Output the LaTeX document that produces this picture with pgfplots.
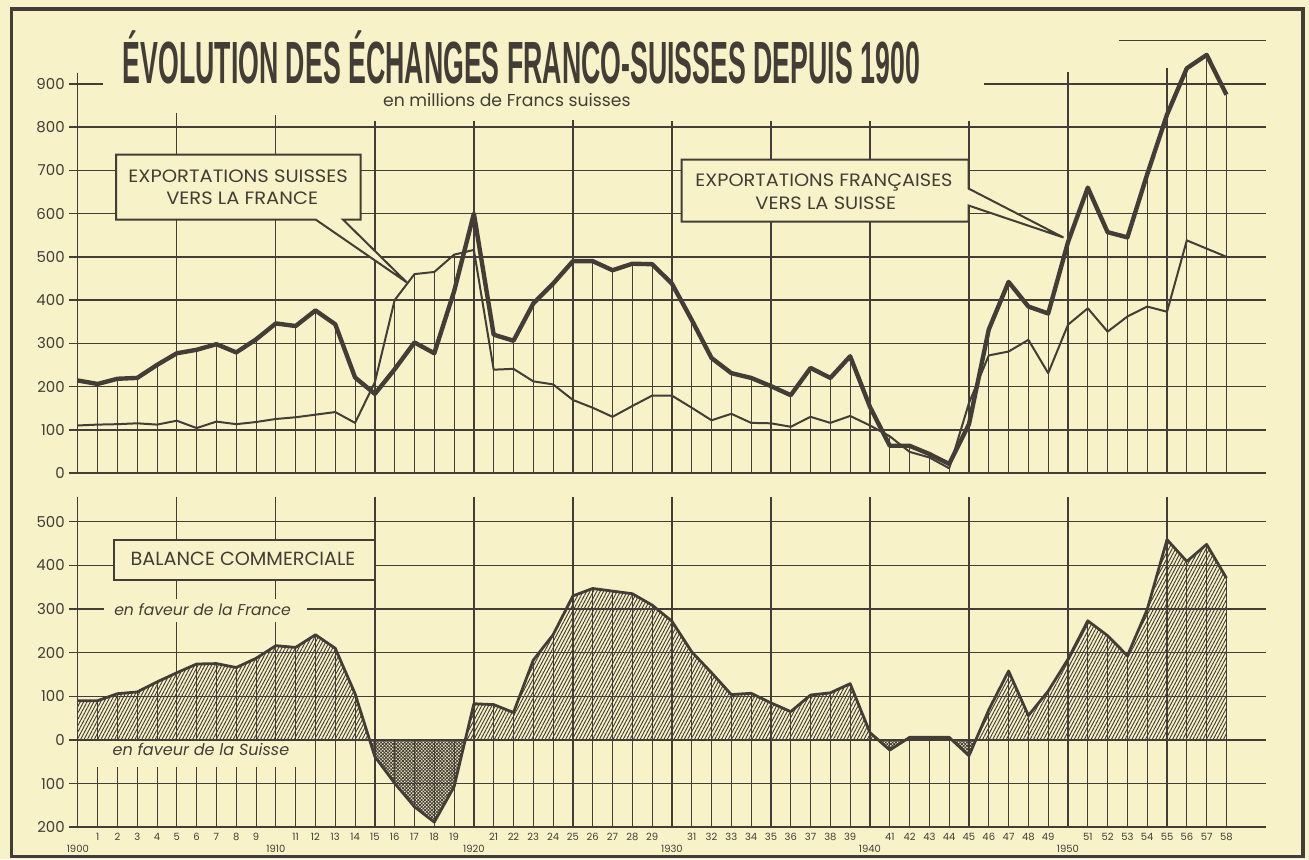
\documentclass[border=0pt]{standalone}
\usepackage{fontspec}
\setmainfont{Poppins}
\newfontfamily\titlefont{Liberation Sans}
\usepackage{graphicx}
\usepackage{xcolor}
\usepackage{pgfplots}
\usepackage{pgfplotstable}
\pgfplotsset{compat=1.18}
\usepgfplotslibrary{fillbetween}
\usetikzlibrary{patterns.meta}
\definecolor{paper}{RGB}{248,242,200}
\definecolor{ink}{RGB}{66,61,54}
\newcommand\capsfit[3]{\resizebox{#1}{#2}{\vphantom{X}\smash{#3}}}

\pgfplotstableread{
year fr ch top
1900 214 110 214
1901 206 112 206
1902 218 113 218
1903 220 115 220
1904 250 112 250
1905 277 121 277
1906 285 104 285
1907 298 119 298
1908 279 113 279
1909 309 118 309
1910 346 125 346
1911 340 129 340
1912 376 135 376
1913 344 141 344
1914 221 116 221
1915 183 210 210
1916 240 400 400
1917 302 460 460
1918 277 465 465
1919 420 505 505
1920 600 516 600
1921 320 239 320
1922 306 241 306
1923 392 212 392
1924 438 205 438
1925 490 169 490
1926 490 151 490
1927 469 130 469
1928 484 155 484
1929 483 179 483
1930 438 179 438
1931 354 151 354
1932 266 122 266
1933 231 137 231
1934 220 116 220
1935 201 115 201
1936 180 107 180
1937 243 130 243
1938 220 116 220
1939 270 132 270
1940 153 110 153
1941 63 85 85
1942 63 49 63
1943 44 36 44
1944 21 11 21
1945 113 162 162
1946 332 272 332
1947 442 281 442
1948 385 308 385
1949 369 231 369
1950 534 343 534
1951 660 381 660
1952 557 327 557
1953 545 362 545
1954 691 385 691
1955 829 373 829
1956 936 538 936
1957 967 519 967
1958 875 500 875
}\exports

\pgfplotstableread{
year bal low
1900 90 -200
1901 90 -200
1902 106 -200
1903 110 -200
1904 133 -200
1905 154 -200
1906 174 -200
1907 175 -200
1908 166 -200
1909 187 -200
1910 216 -200
1911 212 -200
1912 241 -200
1913 210 -200
1914 106 -200
1915 -38 -200
1916 -99 -200
1917 -153 -200
1918 -188 -200
1919 -107 -200
1920 83 -200
1921 81 -200
1922 63 -200
1923 183 -200
1924 241 -200
1925 330 -200
1926 347 -200
1927 341 -200
1928 335 -200
1929 309 -200
1930 272 -200
1931 202 -200
1932 154 -200
1933 104 -200
1934 107 -200
1935 85 -200
1936 65 -200
1937 103 -200
1938 108 -200
1939 129 -200
1940 17 -200
1941 -23 -200
1942 6 -200
1943 6 -200
1944 6 -200
1945 -36 -200
1946 69 -200
1947 158 -200
1948 56 -200
1949 112 -200
1950 185 -200
1951 273 -200
1952 239 -200
1953 193 -200
1954 299 -200
1955 459 -200
1956 409 -200
1957 448 -200
1958 371 -200
}\balance

\tikzset{
  gridh/.style={draw=ink, line width=1.5pt},
  gridv/.style={draw=ink, line width=1.3pt},
  posfill/.style={pattern={Lines[angle=62,distance=3pt,line width=0.95pt]}, pattern color=ink},
  negfill/.style={pattern={Hatch[angle=45,distance=2.4pt,line width=0.85pt]}, pattern color=ink},
}
\pgfplotsset{
  common/.style={
    scale only axis, clip=false,
    axis line style={draw=none}, tick style={draw=none}, major tick length=0pt,
    xmin=1899.55, xmax=1960,
    tick label style={text=ink},
    yticklabel style={font=\fontsize{15}{15}\selectfont, inner sep=0pt, xshift=-4pt, anchor=east},
  },
  comb/.style={ycomb, draw=ink, line width=1pt, mark=none},
}

\begin{document}
\pagecolor{paper}
\begin{tikzpicture}

% ---------------- top chart ----------------
\begin{axis}[common,
  at={(66.37pt,-474pt)}, anchor=south west,
  width=1199.6pt, height=433.3pt,
  ymin=0, ymax=1000,
  xtick=\empty,
  ytick={0,100,...,900},
  yticklabels={0,100,200,300,400,500,600,700,800,900},
]
\pgfplotsinvokeforeach{100,200,...,800}{\draw[gridh] (1899.55,#1) -- (1960,#1);}
\draw[gridh] (1899.55,900) -- (1901.25,900);
\draw[gridh] (1945.75,900) -- (1960,900);
\draw[gridh] (1952.6,1000) -- (1960,1000);
\draw[gridv] (1900,0) -- (1900,925);
\draw[gridv] (1905,0) -- (1905,833);
\draw[gridv] (1910,0) -- (1910,828);
\draw[gridv] (1915,0) -- (1915,813);
\draw[gridv] (1920,0) -- (1920,813);
\draw[gridv] (1925,0) -- (1925,817);
\draw[gridv] (1930,0) -- (1930,813);
\draw[gridv] (1935,0) -- (1935,813);
\draw[gridv] (1940,0) -- (1940,813);
\draw[gridv] (1945,0) -- (1945,813);
\draw[gridv] (1950,0) -- (1950,928);
\draw[gridv] (1955,0) -- (1955,937);
\addplot[comb] table[x=year,y=top]{\exports};
\draw[draw=ink, line width=2.4pt] (1899.55,0) -- (1960,0);
\addplot[draw=ink, line width=2pt, line join=round, mark=none] table[x=year,y=ch]{\exports};
\addplot[draw=ink, line width=4.4pt, line join=round, mark=none] table[x=year,y=fr]{\exports};
\end{axis}

% ---------------- bottom chart ----------------
\begin{axis}[common, set layers,
  at={(66.37pt,-829pt)}, anchor=south west,
  width=1199.6pt, height=332.5pt,
  ymin=-200, ymax=560,
  ytick={-200,-100,0,100,200,300,400,500},
  yticklabels={200,100,0,100,200,300,400,500},
  xtick={1901,1902,1903,1904,1905,1906,1907,1908,1909,1911,1912,1913,1914,1915,1916,1917,1918,1919,1921,1922,1923,1924,1925,1926,1927,1928,1929,1931,1932,1933,1934,1935,1936,1937,1938,1939,1941,1942,1943,1944,1945,1946,1947,1948,1949,1951,1952,1953,1954,1955,1956,1957,1958},
  xticklabels={1,2,3,4,5,6,7,8,9,11,12,13,14,15,16,17,18,19,21,22,23,24,25,26,27,28,29,31,32,33,34,35,36,37,38,39,41,42,43,44,45,46,47,48,49,51,52,53,54,55,56,57,58},
  xticklabel style={font=\fontsize{10}{10}\selectfont, inner sep=0pt, yshift=-6pt, anchor=north},
  extra x ticks={1900,1910,1920,1930,1940,1950},
  extra x tick labels={1900,1910,1920,1930,1940,1950},
  extra x tick style={tick style={draw=none}, xticklabel style={yshift=-12pt}},
]
\pgfplotsinvokeforeach{-100,100,200,300,400,500}{\draw[gridh] (1899.55,#1) -- (1960,#1);}
\pgfplotsinvokeforeach{1900,1905,...,1955}{\draw[gridv] (#1,-200) -- (#1,556);}
\addplot[comb] table[x=year,y=low]{\balance};
\addplot[comb] table[x=year,y=bal]{\balance};
\addplot[name path=bal, draw=none, mark=none] table[x=year,y=bal]{\balance};
\path[name path=zero] (1900,0) -- (1958,0);
\addplot[draw=none] fill between[of=bal and zero, split,
  every segment no 0/.style={posfill},
  every segment no 1/.style={negfill},
  every segment no 2/.style={posfill},
  every segment no 3/.style={negfill},
  every segment no 4/.style={posfill},
  every segment no 5/.style={negfill},
  every segment no 6/.style={posfill}];
\fill[paper] (1901.3,323) rectangle (1911.57,271);
\fill[paper] (1900.64,-1.8) rectangle (1911.3,-61);
\node[anchor=base west, inner sep=0pt, text=ink] at (1901.83,285.3) {\resizebox{177pt}{!}{\itshape en faveur de la France}};
\node[anchor=base west, inner sep=0pt, text=ink] at (1901.75,-36.1) {\resizebox{177pt}{!}{\itshape en faveur de la Suisse}};
\draw[draw=ink, line width=2.4pt] (1899.55,0) -- (1960,0);
\draw[draw=ink, line width=2pt] (1899.55,-200) -- (1960,-200);
\addplot[draw=ink, line width=2.8pt, line join=round, mark=none] table[x=year,y=bal]{\balance};
\draw[draw=ink, line width=1.5pt] (1958,0) -- (1958,371);
\end{axis}

% ---------------- annotations ----------------
\begin{scope}[x=1pt,y=1pt]
\node[anchor=base west, inner sep=0pt, text=ink] at (120,-83.3)
  {\capsfit{799pt}{41.6pt}{\titlefont\bfseries ÉVOLUTION DES ÉCHANGES FRANCO-SUISSES DEPUIS 1900}};
\node[anchor=base west, inner sep=0pt, text=ink] at (381,-106.7)
  {\resizebox{248pt}{!}{en millions de Francs suisses}};
% box 1
\filldraw[fill=paper, draw=ink, line width=2pt, line join=miter]
  (113.6,-155) -- (358.6,-155) -- (358.6,-220) -- (341,-220) -- (405,-283) -- (313.6,-220) -- (113.6,-220) -- cycle;
\node[anchor=base, inner sep=0pt, text=ink] at (236,-183) {\capsfit{220pt}{12.5pt}{EXPORTATIONS SUISSES}};
\node[anchor=base, inner sep=0pt, text=ink] at (240,-205) {\capsfit{152pt}{12.5pt}{VERS LA FRANCE}};
% box 2
\filldraw[fill=paper, draw=ink, line width=2pt, line join=miter]
  (680.3,-160) -- (968,-160) -- (968,-189) -- (1063,-238) -- (968,-206) -- (968,-222) -- (680.3,-222) -- cycle;
\node[anchor=base, inner sep=0pt, text=ink] at (823,-187) {\capsfit{257.5pt}{12.5pt}{EXPORTATIONS FRANÇAISES}};
\node[anchor=base, inner sep=0pt, text=ink] at (824.7,-210) {\capsfit{141pt}{12.5pt}{VERS LA SUISSE}};
% box 3
\filldraw[fill=paper, draw=ink, line width=2pt] (111.7,-540.7) rectangle (373.3,-580.7);
\node[anchor=base, inner sep=0pt, text=ink] at (240.8,-566.7) {\capsfit{225pt}{13.3pt}{BALANCE COMMERCIALE}};
% frame
\draw[draw=ink, line width=3.5pt] (9,-9) rectangle (1303,-858);
\end{scope}
\pgfresetboundingbox
\path[use as bounding box] (0pt,0pt) rectangle (1309pt,-861pt);
\end{tikzpicture}
\end{document}
